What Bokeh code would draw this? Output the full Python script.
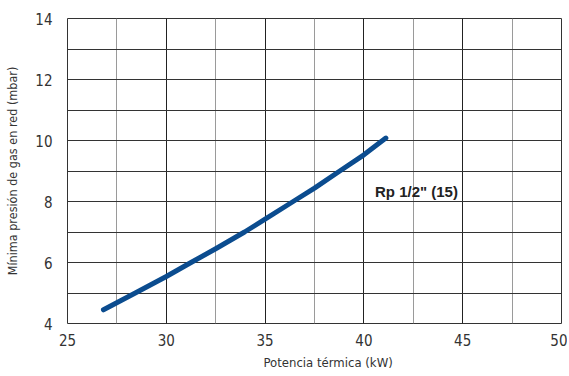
from bokeh.plotting import figure
from bokeh.models import FixedTicker, Label, Range1d, Title
from bokeh.embed import file_html
from bokeh.resources import INLINE

# Data
potencia_kw = [26.82, 28.43, 30.0, 31.25, 32.5, 33.96, 35.0, 36.42, 37.5, 38.78, 40.0, 41.11]
presion_mbar = [4.45, 5.0, 5.54, 6.0, 6.45, 7.0, 7.42, 8.0, 8.44, 9.0, 9.53, 10.08]
x_ticks = [25, 30, 35, 40, 45, 50]
x_minor = [27.5, 32.5, 37.5, 42.5, 47.5]
y_ticks = [4, 6, 8, 10, 12, 14]
y_minor = [5, 7, 9, 11, 13]
series_label = 'Rp 1/2" (15)'
label_pos = (40.56, 8.34)
x_title = "Potencia térmica (kW)"
y_title = "Mínima presión de gas en red (mbar)"

FONT = "DejaVu Sans Condensed"

p = figure(width=567, height=376, output_backend="svg", toolbar_location=None,
           x_range=Range1d(25, 50), y_range=Range1d(4, 14),
           min_border_left=67, min_border_right=6, min_border_top=18, min_border_bottom=53)

p.outline_line_color = "#333333"
p.outline_line_width = 1
p.background_fill_color = "white"
p.border_fill_color = "white"

p.xaxis.ticker = FixedTicker(ticks=x_ticks, minor_ticks=x_minor)
p.yaxis.ticker = FixedTicker(ticks=y_ticks, minor_ticks=y_minor)
for ax in (p.xaxis[0], p.yaxis[0]):
    ax.axis_line_color = None
    ax.major_tick_line_color = None
    ax.minor_tick_line_color = None
    ax.major_label_text_font = FONT
    ax.major_label_text_font_size = "15px"
    ax.major_label_text_color = "#333333"
p.xaxis.major_label_standoff = 4
p.yaxis.major_label_standoff = 9

p.yaxis.axis_label = y_title
p.yaxis.axis_label_text_font = FONT
p.yaxis.axis_label_text_font_size = "12.5px"
p.yaxis.axis_label_text_font_style = "normal"
p.yaxis.axis_label_text_color = "#333333"
p.yaxis.axis_label_standoff = 12

p.add_layout(Title(text=x_title, align="left", offset=196, standoff=9,
                   text_font=FONT, text_font_size="13px", text_font_style="normal",
                   text_color="#333333"), "below")

p.xgrid.grid_line_color = "#222222"
p.xgrid.minor_grid_line_color = "#9a9a9a"
p.ygrid.grid_line_color = "#333333"
p.ygrid.minor_grid_line_color = "#333333"
for g in (p.xgrid[0], p.ygrid[0]):
    g.grid_line_width = 1
    g.minor_grid_line_width = 1
    g.grid_line_alpha = 1

p.line(potencia_kw, presion_mbar, line_color="#0b4c8f", line_width=5,
       line_cap="round", line_join="round")

p.add_layout(Label(x=label_pos[0], y=label_pos[1], text=series_label,
                   text_font="Liberation Sans", text_font_style="bold",
                   text_font_size="15px", text_color="#222222",
                   text_baseline="alphabetic"))

open("out.html", "w").write(file_html(p, INLINE))
